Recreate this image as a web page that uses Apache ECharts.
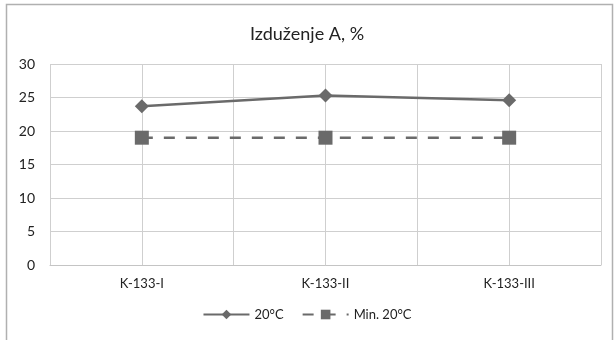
<!DOCTYPE html>
<html>
<head>
<meta charset="utf-8">
<script src="https://cdn.jsdelivr.net/npm/echarts@6/dist/echarts.min.js"></script>
<style>
html, body { margin: 0; padding: 0; background: #fff; }
#chart { width: 614px; height: 340px; }
</style>
</head>
<body>
<div id="chart"></div>
<script>
// podaci
var categories = ['K-133-I', 'K-133-II', 'K-133-III'];
var elongation20 = [23.7, 25.3, 24.6];
var min20 = [19, 19, 19];
var yTicks = { min: 0, max: 30, interval: 5 };
// pomocna osa za vertikalne linije mreze (6 polja)
var gridCols = ['', '', '', '', '', ''];

var chart = echarts.init(document.getElementById('chart'));
var font = 'Lato, "Open Sans", sans-serif';

var option = {
	animation: false,
	title: {
		text: 'Izduženje A, %',
		left: 'center',
		top: 20,
		textStyle: { fontFamily: font, fontSize: 18, fontWeight: 'normal', color: '#222' }
	},
	graphic: [{
		type: 'rect',
		shape: { x: 6.5, y: 4.5, width: 606, height: 345 },
		style: { fill: 'none', stroke: '#b0b0b0', lineWidth: 1.5 },
		silent: true
	}],
	legend: {
		bottom: 14,
		left: 'center',
		itemWidth: 46,
		itemHeight: 12,
		itemGap: 18,
		textStyle: { fontFamily: font, fontSize: 13, color: '#222' },
		data: ['20°C', 'Min. 20°C']
	},
	grid: { left: 50, right: 13, top: 64, bottom: 75 },
	xAxis: [{
		type: 'category',
		data: categories,
		boundaryGap: true,
		axisLine: { lineStyle: { color: '#c4c4c4' } },
		axisTick: { show: false },
		splitLine: { show: false },
		axisLabel: { fontFamily: font, fontSize: 13, color: '#222', margin: 12 }
	}, {
		type: 'category',
		data: gridCols,
		position: 'bottom',
		axisLine: { show: false },
		axisTick: { show: false },
		axisLabel: { show: false },
		splitLine: { show: true, lineStyle: { color: '#cfcfcf' } }
	}],
	yAxis: {
		type: 'value',
		min: yTicks.min,
		max: yTicks.max,
		interval: yTicks.interval,
		axisLine: { show: false },
		axisTick: { show: false },
		axisLabel: { fontFamily: font, fontSize: 14, color: '#222', margin: 15 },
		splitLine: { lineStyle: { color: '#cfcfcf' } }
	},
	series: [{
		name: '20°C',
		type: 'line',
		data: elongation20,
		symbol: 'diamond',
		symbolSize: 14,
		itemStyle: { color: '#6a6a6a' },
		lineStyle: { color: '#6a6a6a', width: 2.5 }
	}, {
		name: 'Min. 20°C',
		type: 'line',
		data: min20,
		symbol: 'rect',
		symbolSize: 14,
		itemStyle: { color: '#6a6a6a' },
		lineStyle: { color: '#6a6a6a', width: 2.5, type: [11, 11] }
	}]
};

chart.setOption(option);
</script>
</body>
</html>
